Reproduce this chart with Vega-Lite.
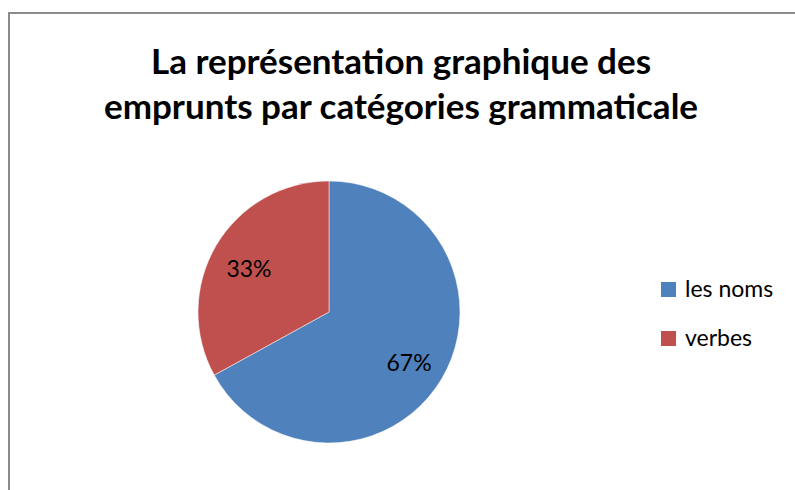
{
  "$schema": "https://vega.github.io/schema/vega-lite/v6.json",
  "width": 800,
  "height": 490,
  "autosize": {"type": "none"},
  "padding": {"left": 9, "top": 13, "right": 0, "bottom": 0},
  "background": "white",
  "view": {"stroke": "#8c8c8c", "strokeWidth": 2, "fill": "white"},
  "config": {
    "font": "Lato"
  },
  "title": {
    "text": ["La représentation graphique des", "emprunts par catégories grammaticale"],
    "font": "Lato",
    "fontSize": 35,
    "fontWeight": "bold",
    "color": "#000000",
    "anchor": "middle",
    "frame": "group",
    "baseline": "top",
    "offset": 0,
    "dy": 113,
    "dx": -8,
    "lineHeight": 45
  },
  "data": {
    "values": [
      {"categorie": "les noms", "part": 67, "label": "67%"},
      {"categorie": "verbes", "part": 33, "label": "33%"}
    ]
  },
  "encoding": {
    "theta": {"field": "part", "type": "quantitative", "stack": true},
    "order": {"field": "part", "type": "quantitative", "sort": "descending"},
    "color": {
      "field": "categorie",
      "type": "nominal",
      "scale": {"domain": ["les noms", "verbes"], "range": ["#4F81BD", "#C0504D"]},
      "legend": {
        "orient": "none",
        "legendX": 648,
        "legendY": 265,
        "title": null,
        "symbolType": "square",
        "symbolSize": 225,
        "symbolStrokeWidth": 0,
        "labelFontSize": 23,
        "labelFont": "Lato",
        "labelColor": "#000000",
        "labelOffset": 5,
        "rowPadding": 25
      }
    }
  },
  "layer": [
    {
      "mark": {"type": "arc", "x": 320, "y": 299, "outerRadius": 131, "stroke": "white", "strokeWidth": 0.5}
    },
    {
      "mark": {"type": "text", "x": 320, "y": 299, "radius": 93, "dy": 5, "fontSize": 23, "font": "Lato"},
      "encoding": {
        "text": {"field": "label", "type": "nominal"},
        "color": {"value": "#000000"}
      }
    }
  ]
}
